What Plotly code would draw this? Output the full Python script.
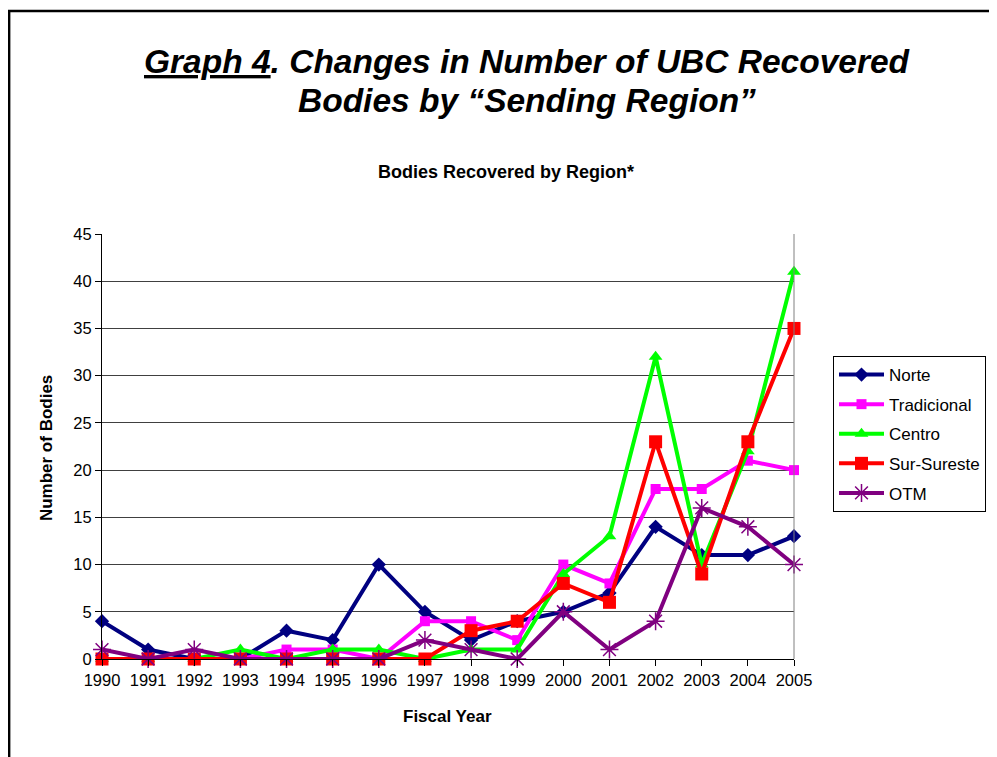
import plotly.graph_objects as go

years = list(range(1990, 2006))
norte = [4, 1, 0, 0, 3, 2, 10, 5, 2, 4, 5, 7, 14, 11, 11, 13]
tradicional = [0, 0, 0, 0, 1, 1, 0, 4, 4, 2, 10, 8, 18, 18, 21, 20]
centro = [0, 0, 0, 1, 0, 1, 1, 0, 1, 1, 9, 13, 32, 10, 22, 41]
sur_sureste = [0, 0, 0, 0, 0, 0, 0, 0, 3, 4, 8, 6, 23, 9, 23, 35]
otm = [1, 0, 1, 0, 0, 0, 0, 2, 1, 0, 5, 1, 4, 16, 14, 10]

series = [
    ("Norte", norte, "#000080", "diamond", 11),
    ("Tradicional", tradicional, "#FF00FF", "square", 10),
    ("Centro", centro, "#00FF00", "triangle-up", 12),
    ("Sur-Sureste", sur_sureste, "#FF0000", "square", 13),
    ("OTM", otm, "#800080", "asterisk-open", 15),
]

FONT = "Liberation Sans, Arial, sans-serif"

fig = go.Figure()
for name, vals, color, sym, size in series:
    fig.add_trace(go.Scatter(
        x=years, y=vals, name=name, mode="lines+markers",
        line=dict(color=color, width=4),
        marker=dict(symbol=sym, size=size, color=color,
                    line=dict(color=color, width=1.5 if sym.startswith("asterisk") else 0)),
        cliponaxis=False, legendgroup=name,
    ))

# page offset (body margin) of 8px
OFF = 8
W, H = 997 - OFF, 757 - OFF
L, R, T, B = 102 - OFF, 795 - OFF, 234 - OFF, 659 - OFF

def px(x):
    return (x - OFF - L) / (R - L)

def py(y):
    return (B - (y - OFF)) / (B - T)

fig.update_layout(
    width=W, height=H,
    margin=dict(l=L, r=W - R, t=T, b=H - B),
    paper_bgcolor="white", plot_bgcolor="white",
    font=dict(family=FONT, size=14, color="black"),
    showlegend=True,
    legend=dict(
        x=px(833), y=py(356), xanchor="left", yanchor="top",
        bordercolor="black", borderwidth=1, bgcolor="white",
        font=dict(size=17, family=FONT), tracegroupgap=4.5, itemwidth=45,
    ),
    xaxis=dict(
        range=[1990, 2005], tickmode="array", tickvals=years,
        ticktext=[str(y) for y in years],
        showgrid=False, showline=True, linecolor="black", linewidth=1,
        ticks="outside", ticklen=6, tickcolor="black",
        tickfont=dict(size=16.5), mirror=False, zeroline=False,
    ),
    yaxis=dict(
        range=[0, 45], dtick=5, showgrid=True, gridcolor="#404040", gridwidth=1,
        showline=True, linecolor="black", linewidth=1,
        ticks="outside", ticklen=6, tickcolor="black",
        tickfont=dict(size=16.5), zeroline=False,
    ),
    annotations=[
        dict(text="<b><i><u>Graph 4</u>. Changes in Number of UBC Recovered</i></b>",
             x=px(528), y=py(62), xref="paper", yref="paper", showarrow=False,
             xanchor="center", yanchor="middle",
             font=dict(size=33.5, family=FONT)),
        dict(text="<b><i>Bodies by \u201cSending Region\u201d</i></b>",
             x=px(528), y=py(100), xref="paper", yref="paper", showarrow=False,
             xanchor="center", yanchor="middle",
             font=dict(size=33.5, family=FONT)),
        dict(text="<b>Bodies Recovered by Region*</b>",
             x=px(507), y=py(172), xref="paper", yref="paper", showarrow=False,
             xanchor="center", yanchor="middle", font=dict(size=18)),
        dict(text="<b>Number of Bodies</b>", textangle=-90,
             x=px(46), y=py(448), xref="paper", yref="paper", showarrow=False,
             xanchor="center", yanchor="middle", font=dict(size=17)),
        dict(text="<b>Fiscal Year</b>",
             x=px(448), y=py(716), xref="paper", yref="paper", showarrow=False,
             xanchor="center", yanchor="middle", font=dict(size=17)),
    ],
    shapes=[
        dict(type="path", xref="paper", yref="paper",
             path=f"M {px(9)} {py(800)} L {px(9)} {py(11)} L {px(1010)} {py(11)}",
             line=dict(color="black", width=2.5)),
        dict(type="line", xref="paper", yref="paper",
             x0=1, x1=1, y0=0, y1=1, line=dict(color="#808080", width=1)),
    ],
)

fig.write_html("out.html")
